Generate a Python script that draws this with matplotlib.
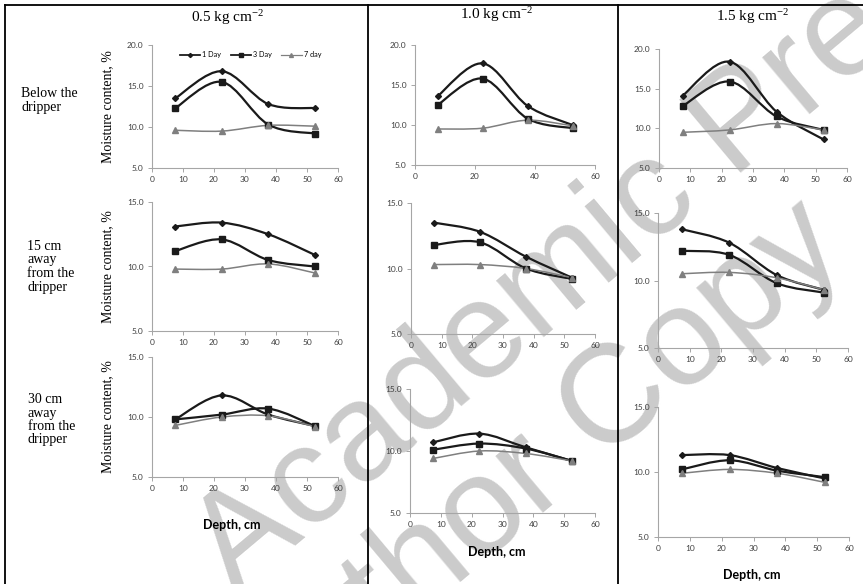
#!/usr/bin/env python3
"""Soil moisture vs depth: 3 x 3 grid (distance from dripper x
compaction pressure), one smoothed line per day after irrigation."""

import matplotlib
matplotlib.use('Agg')
import matplotlib.pyplot as plt
import numpy as np
from matplotlib.lines import Line2D
from matplotlib.path import Path
from matplotlib.patches import PathPatch

W, H = 863, 584

DEPTH = [7.5, 22.5, 37.5, 52.5]
PRESSURES = ['0.5 kg cm$^{-2}$', '1.0 kg cm$^{-2}$', '1.5 kg cm$^{-2}$']
ROW_LABELS = ['Below the\ndripper', '15 cm\naway\nfrom the\ndripper',
              '30 cm\naway\nfrom the\ndripper']
SERIES = ['1 Day', '3 Day', '7 day']

# one list per pressure (0.5, 1.0, 1.5 kg/cm2)
DAY1_BELOW = [[13.5, 16.8, 12.8, 12.3], [13.6, 17.7, 12.4, 10.0],
              [14.1, 18.4, 12.1, 8.6]]
DAY3_BELOW = [[12.3, 15.5, 10.3, 9.2], [12.5, 15.8, 10.8, 9.6],
              [12.8, 15.9, 11.5, 9.8]]
DAY7_BELOW = [[9.6, 9.5, 10.2, 10.1], [9.5, 9.6, 10.6, 9.9],
              [9.5, 9.8, 10.6, 9.8]]

DAY1_15CM = [[13.1, 13.4, 12.5, 10.9], [13.5, 12.8, 10.9, 9.3],
             [13.8, 12.8, 10.4, 9.3]]
DAY3_15CM = [[11.2, 12.1, 10.5, 10.0], [11.8, 12.0, 10.0, 9.2],
             [12.2, 11.9, 9.8, 9.1]]
DAY7_15CM = [[9.8, 9.8, 10.2, 9.5], [10.3, 10.3, 10.0, 9.3],
             [10.5, 10.6, 10.2, 9.3]]

DAY1_30CM = [[9.8, 11.8, 10.2, 9.25], [10.7, 11.4, 10.3, 9.2],
             [11.3, 11.3, 10.3, 9.5]]
DAY3_30CM = [[9.8, 10.2, 10.7, 9.25], [10.1, 10.6, 10.2, 9.2],
             [10.2, 10.9, 10.1, 9.6]]
DAY7_30CM = [[9.3, 10.0, 10.1, 9.2], [9.4, 10.0, 9.8, 9.2],
             [9.9, 10.2, 9.9, 9.2]]

ROWS = [
    (DAY1_BELOW, DAY3_BELOW, DAY7_BELOW),
    (DAY1_15CM, DAY3_15CM, DAY7_15CM),
    (DAY1_30CM, DAY3_30CM, DAY7_30CM),
]

# pixel boxes of each plot area: (x_left, x_right, y_top, y_bottom)
BOXES = [
    [(152, 338, 45, 168), (415, 595, 45, 165), (659, 847, 49, 168)],
    [(152, 338, 202, 331), (411, 595, 203, 334), (658, 848, 213, 348)],
    [(152, 338, 357, 477), (410, 595, 389, 513), (658, 849, 407, 537)],
]

STYLES = [
    dict(color='#1a1a1a', lw=1.6, marker='D', ms=3.0),
    dict(color='#1a1a1a', lw=1.6, marker='s', ms=5.0),
    dict(color='#7f7f7f', lw=1.1, marker='^', ms=4.0),
]

SERIF = ['Liberation Serif', 'DejaVu Serif']
TICK_FONT = ['Lato', 'DejaVu Sans']


def smooth_path(x, y):
    pts = np.column_stack([x, y]).astype(float)
    n = len(pts)
    verts = [pts[0]]
    codes = [Path.MOVETO]
    for i in range(n - 1):
        p0 = pts[max(i - 1, 0)]
        p1 = pts[i]
        p2 = pts[i + 1]
        p3 = pts[min(i + 2, n - 1)]
        verts += [p1 + (p2 - p0) / 6, p2 - (p3 - p1) / 6, p2]
        codes += [Path.CURVE4] * 3
    return Path(verts, codes)


def px_rect(x0, x1, y0, y1):
    return [x0 / W, 1 - y1 / H, (x1 - x0) / W, (y1 - y0) / H]


def draw_panel(ax, series, row, col):
    for vals, st in zip(series, STYLES):
        ax.add_patch(PathPatch(
            smooth_path(DEPTH, vals[col]), facecolor='none',
            edgecolor=st['color'], lw=st['lw'], zorder=2,
        ))
        ax.plot(DEPTH, vals[col], linestyle='none', marker=st['marker'],
                ms=st['ms'], color=st['color'], zorder=3)
    ax.set_xlim(0, 60)
    if row == 0:
        ax.set_ylim(5, 20)
        ax.set_yticks([5, 10, 15, 20])
    else:
        ax.set_ylim(5, 15)
        ax.set_yticks([5, 10, 15])
    if row == 0 and col == 1:
        ax.set_xticks([0, 20, 40, 60])
    else:
        ax.set_xticks(range(0, 61, 10))
    ax.set_yticklabels([f'{v:.1f}' for v in ax.get_yticks()])
    ax.set_facecolor('none')
    for s in ('top', 'right'):
        ax.spines[s].set_visible(False)
    for s in ('left', 'bottom'):
        ax.spines[s].set_color('#a6a6a6')
        ax.spines[s].set_linewidth(0.8)
    ax.tick_params(direction='out', length=3, width=0.7, color='#a6a6a6',
                   labelsize=6, labelcolor='#404040', pad=3)
    for lab in ax.get_xticklabels() + ax.get_yticklabels():
        lab.set_family(TICK_FONT)


def main():
    plt.rcParams['mathtext.default'] = 'regular'
    fig = plt.figure(figsize=(W / 100, H / 100), dpi=100)

    # watermark, behind the charts
    wm = dict(fontsize=100, color='#cbcbcb', rotation=40,
              rotation_mode='anchor', ha='left', va='baseline',
              family=['Liberation Sans', 'DejaVu Sans'], zorder=-5)
    fig.text(235 / W, 1 - 596 / H, 'Academic Press', **wm)
    fig.text(258 / W, 1 - 752 / H, 'Author Copy', **wm)

    for r, series in enumerate(ROWS):
        for c in range(3):
            ax = fig.add_axes(px_rect(*BOXES[r][c]))
            draw_panel(ax, series, r, c)
            if c == 0:
                ax.set_ylabel('Moisture content, %', family=SERIF,
                              fontsize=10, labelpad=9)
            if r == 0 and c == 0:
                handles = [
                    Line2D([], [], color=st['color'], lw=st['lw'] * 0.8,
                           marker=st['marker'], ms=st['ms'] * 0.7)
                    for st in STYLES
                ]
                ax.legend(handles, SERIES, loc='upper center',
                          bbox_to_anchor=(0.53, 1.0), ncol=3,
                          frameon=False, handlelength=2.8,
                          columnspacing=1.3, handletextpad=0.3,
                          prop={'family': TICK_FONT, 'size': 5.2})

    # column headers
    for x, y, txt in zip([228, 497, 753], [18, 15, 17], PRESSURES):
        fig.text(x / W, 1 - y / H, txt, ha='center', va='center',
                 family=SERIF, fontsize=11)

    # row labels
    for (x, y), txt in zip([(21, 87), (27, 240), (28, 393)], ROW_LABELS):
        fig.text(x / W, 1 - y / H, txt, ha='left', va='top',
                 family=SERIF, fontsize=10, linespacing=1.05)

    # x axis titles under bottom row
    for x, y in [(232, 525), (497, 552), (752, 575)]:
        fig.text(x / W, 1 - y / H, 'Depth, cm', ha='center', va='center',
                 family=['Lato', 'DejaVu Sans'], fontweight='bold',
                 fontsize=9)

    # frame lines
    lk = dict(color='black', lw=1.3, transform=fig.transFigure)
    fig.add_artist(Line2D([5 / W, 1], [1 - 5 / H] * 2, **lk))
    for x in (5, 368, 618):
        fig.add_artist(Line2D([x / W] * 2, [0, 1 - 5 / H], **lk))

    fig.savefig('out.png', dpi=100)


if __name__ == '__main__':
    main()
